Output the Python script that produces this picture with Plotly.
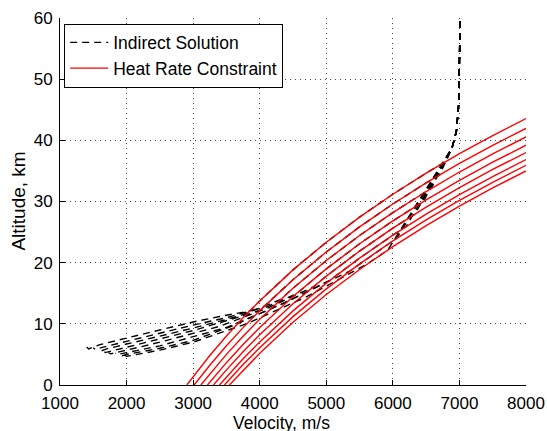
import plotly.graph_objects as go

# ---------------- data ----------------
# Heat-rate constraint curves: velocity grid (m/s) and altitude (km)
heat_v = [3000, 3250, 3500, 3750, 4000, 4500, 5000, 5500, 6000, 6500, 7000, 7500, 8000]
heat_v0 = [2905, 3015, 3115, 3215, 3305, 3395, 3470, 3545]  # velocity where altitude = 0
heat_h1 = [1.38, 4.83, 8.01, 10.98, 13.75, 18.82, 23.35, 27.45, 31.19, 34.63, 37.82, 40.78, 43.56]
heat_h2 = [None, 3.23, 6.41, 9.38, 12.16, 17.22, 21.75, 25.85, 29.59, 33.03, 36.22, 39.19, 41.96]
heat_h3 = [None, 1.82, 5.01, 7.98, 10.75, 15.82, 20.35, 24.45, 28.19, 31.63, 34.82, 37.78, 40.56]
heat_h4 = [None, 0.47, 3.65, 6.62, 9.39, 14.46, 18.99, 23.09, 26.83, 30.27, 33.46, 36.42, 39.20]
heat_h5 = [None, None, 2.47, 5.43, 8.21, 13.27, 17.80, 21.90, 25.64, 29.08, 32.27, 35.24, 38.01]
heat_h6 = [None, None, 1.31, 4.28, 7.05, 12.12, 16.65, 20.74, 24.49, 27.93, 31.12, 34.08, 36.86]
heat_h7 = [None, None, 0.37, 3.34, 6.11, 11.18, 15.71, 19.81, 23.55, 26.99, 30.18, 33.14, 35.92]
heat_h8 = [None, None, None, 2.42, 5.19, 10.26, 14.79, 18.89, 22.63, 26.07, 29.26, 32.22, 35.00]
heat_h = [heat_h1, heat_h2, heat_h3, heat_h4, heat_h5, heat_h6, heat_h7, heat_h8]

# Indirect-solution trajectories
top_v = [7010, 7005, 6990, 6955, 6890]
top_h = [59.5, 52.0, 46.0, 41.5, 38.8]
join_v = [6800, 6700, 6580, 6460, 6330, 6200, 6060, 5920]
join_h = [36.6, 34.3, 32.2, 30.0, 27.9, 25.9, 24.0, 22.0]
depart_v = [3850, 4050, 4300, 4550, 4800, 5050, 5350, 5600]
depart_h = [12.1, 12.7, 13.9, 14.9, 16.0, 17.1, 18.6, 19.7]
tail_v = [
    [3400, 3000, 2500, 2000, 1600, 1430, 1400],
    [3500, 3000, 2500, 2000, 1650, 1530, 1500],
    [3700, 3000, 2500, 2000, 1700, 1600, 1570],
    [3900, 3000, 2500, 2000, 1760, 1680, 1650],
    [4100, 3400, 3000, 2500, 2000, 1820, 1760, 1730],
    [4350, 3500, 3000, 2500, 2000, 1870, 1830],
    [4400, 3600, 3000, 2500, 2000, 1940, 1900],
    [4700, 3800, 3000, 2500, 2060, 2000, 1970],
]
tail_h = [
    [11.2, 10.3, 9.0, 7.7, 6.6, 5.9, 6.2],
    [11.0, 9.8, 8.5, 7.2, 6.2, 5.8, 6.1],
    [11.3, 9.3, 8.0, 6.7, 5.9, 5.5, 5.8],
    [11.8, 8.9, 7.5, 6.2, 5.5, 5.3, 5.6],
    [12.5, 9.6, 8.4, 7.0, 5.7, 5.2, 5.1, 5.3],
    [13.3, 9.4, 7.9, 6.4, 5.3, 5.0, 5.2],
    [13.6, 9.7, 7.3, 6.0, 5.0, 4.8, 5.0],
    [14.4, 10.0, 7.0, 5.7, 4.8, 4.7, 4.9],
]

x_ticks = [1000, 2000, 3000, 4000, 5000, 6000, 7000, 8000]
y_ticks = [0, 10, 20, 30, 40, 50, 60]
x_title = "Velocity, m/s"
y_title = "Altitude, km"

# ---------------- figure ----------------
fig = go.Figure()

for k in range(8):
    hk = heat_h[k]
    arc = [(v, h) for v, h in zip(heat_v, hk)
           if h is not None and depart_v[k] < v < join_v[k]]
    arc.sort(key=lambda p: -p[0])
    xs = top_v + [join_v[k]] + [p[0] for p in arc] + [depart_v[k]] + tail_v[k]
    ys = top_h + [join_h[k]] + [p[1] for p in arc] + [depart_h[k]] + tail_h[k]
    fig.add_trace(go.Scatter(
        x=xs, y=ys, mode="lines",
        line=dict(color="black", width=1.4, dash="7px,5px"),
        name="Indirect Solution", legendgroup="ind", showlegend=(k == 0),
    ))

for k in range(8):
    hk = heat_h[k]
    xs = [heat_v0[k]] + [v for v, h in zip(heat_v, hk) if h is not None]
    ys = [0] + [h for h in hk if h is not None]
    fig.add_trace(go.Scatter(
        x=xs, y=ys, mode="lines",
        line=dict(color="#ff0000", width=1.4),
        name="Heat Rate Constraint", legendgroup="heat", showlegend=(k == 0),
    ))

font_family = "Liberation Sans, Arial, sans-serif"

fig.update_layout(
    width=547, height=431,
    margin=dict(l=60, r=21, t=18, b=46),
    paper_bgcolor="white", plot_bgcolor="white",
    font=dict(family=font_family, size=17, color="black"),
    showlegend=True,
    legend=dict(
        x=0.009, y=0.985, xanchor="left", yanchor="top",
        bgcolor="white", bordercolor="black", borderwidth=1,
        font=dict(family=font_family, size=17.5, color="black"),
        tracegroupgap=0, itemwidth=38,
    ),
    xaxis=dict(
        range=[1000, 8000], tickvals=x_ticks, ticktext=[str(t) for t in x_ticks],
        showline=True, linecolor="black", linewidth=1, mirror=False,
        ticks="inside", ticklen=5, tickcolor="black",
        ticklabelstandoff=3, automargin=False,
        showgrid=True, gridcolor="#444", griddash="1px,4px", gridwidth=1,
        zeroline=False,
    ),
    yaxis=dict(
        range=[0, 60], tickvals=y_ticks, ticktext=[str(t) for t in y_ticks],
        showline=True, linecolor="black", linewidth=1, mirror=False,
        ticks="inside", ticklen=5, tickcolor="black",
        ticklabelstandoff=3, automargin=False,
        showgrid=True, gridcolor="#444", griddash="1px,4px", gridwidth=1,
        zeroline=False,
    ),
    annotations=[
        dict(text=x_title, xref="paper", yref="paper", x=0.475, y=-0.0715,
             xanchor="center", yanchor="top", showarrow=False,
             font=dict(family=font_family, size=17.5, color="black")),
        dict(text=y_title, xref="paper", yref="paper", x=-0.09, y=0.5,
             xanchor="center", yanchor="middle", textangle=-90, showarrow=False,
             font=dict(family=font_family, size=19, color="black")),
    ],
)

fig.write_html("out.html")
